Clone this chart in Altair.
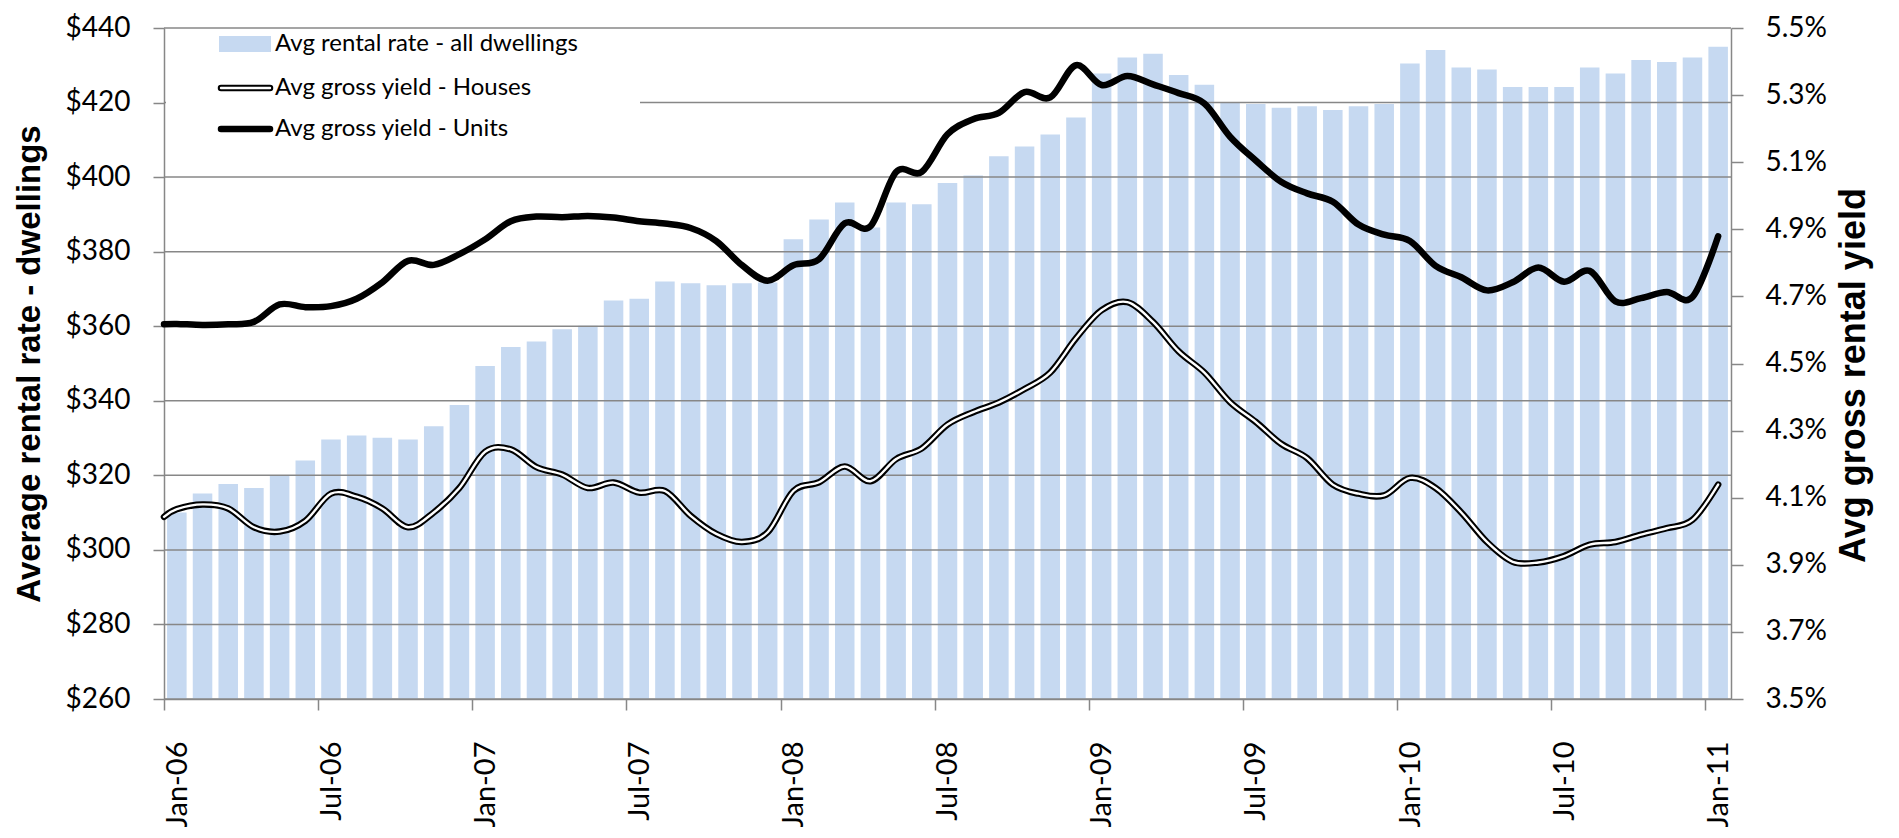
import altair as alt
import pandas as pd

# ---------------- data ----------------
month_index = list(range(61))  # Jan-06 .. Jan-11

rent = [310.0, 315.1, 317.7, 316.6, 319.9, 324.0, 329.6, 330.7, 330.1, 329.6, 333.2, 338.9,
        349.3, 354.4, 355.9, 359.2, 360.1, 366.9, 367.4, 372.0, 371.5, 371.0, 371.5, 371.7,
        383.3, 388.6, 393.2, 386.5, 393.2, 392.7, 398.4, 400.4, 405.6, 408.2, 411.4, 416.0,
        427.8, 432.1, 433.1, 427.4, 424.8, 420.0, 419.6, 418.6, 419.0, 418.0, 419.0, 419.6,
        430.5, 434.1, 429.4, 428.9, 424.2, 424.2, 424.2, 429.4, 427.8, 431.4, 430.9, 432.1,
        435.0]

houses_start = 4.043
houses_yield = [4.066, 4.080, 4.068, 4.012, 3.999, 4.031, 4.112, 4.103, 4.068, 4.012, 4.056, 4.129,
                4.237, 4.244, 4.191, 4.169, 4.129, 4.145, 4.115, 4.120, 4.046, 3.992, 3.968, 3.997,
                4.120, 4.146, 4.193, 4.149, 4.215, 4.247, 4.318, 4.355, 4.384, 4.424, 4.473, 4.575,
                4.659, 4.683, 4.624, 4.536, 4.473, 4.385, 4.326, 4.260, 4.218, 4.139, 4.112, 4.107,
                4.159, 4.129, 4.056, 3.968, 3.909, 3.907, 3.926, 3.960, 3.968, 3.990, 4.009, 4.034,
                4.139]

units_start = 4.617
units_yield = [4.618, 4.615, 4.617, 4.624, 4.676, 4.668, 4.671, 4.693, 4.742, 4.806, 4.794, 4.826,
               4.870, 4.924, 4.938, 4.936, 4.940, 4.935, 4.924, 4.917, 4.904, 4.865, 4.793, 4.747,
               4.793, 4.811, 4.918, 4.909, 5.071, 5.071, 5.183, 5.228, 5.247, 5.309, 5.293, 5.389,
               5.330, 5.357, 5.332, 5.306, 5.275, 5.176, 5.105, 5.041, 5.007, 4.982, 4.914, 4.884,
               4.865, 4.791, 4.757, 4.718, 4.742, 4.786, 4.744, 4.776, 4.685, 4.695, 4.713, 4.698,
               4.879]

dollar_ticks = [260, 280, 300, 320, 340, 360, 380, 400, 420, 440]
yield_ticks = [3.5, 3.7, 3.9, 4.1, 4.3, 4.5, 4.7, 4.9, 5.1, 5.3, 5.5]
x_tick_months = [0, 6, 12, 18, 24, 30, 36, 42, 48, 54, 60]
x_tick_labels = ["Jan-06", "Jul-06", "Jan-07", "Jul-07", "Jan-08", "Jul-08",
                 "Jan-09", "Jul-09", "Jan-10", "Jul-10", "Jan-11"]

legend_labels = ["Avg rental rate  - all dwellings",
                 "Avg gross yield  - Houses",
                 "Avg gross yield  - Units"]

# ---------------- tables ----------------
bars_df = pd.DataFrame({"m": month_index, "rent": rent})
houses_df = pd.DataFrame({"pos": [0.0] + [m + 0.5 for m in month_index],
                          "val": [houses_start] + houses_yield})
units_df = pd.DataFrame({"pos": [0.0] + [m + 0.5 for m in month_index],
                         "val": [units_start] + units_yield})
grid_df = pd.DataFrame({"rent": dollar_ticks})
one = pd.DataFrame({"k": [0]})

# ---------------- styles ----------------
GRAY = "#878787"
BAR = "#C6D9F1"
LBL_FONT = "Lato"
TITLE_FONT = "Liberation Sans"
LBL_SIZE = 28

W, H = 1567, 671
PAD_TOP = 20

x_scale = alt.Scale(domain=[0, 61], nice=False, zero=False)
yl_scale = alt.Scale(domain=[260, 440], nice=False, zero=False)
yr_scale = alt.Scale(domain=[3.5, 5.5], nice=False, zero=False)

lbl_arr = "[" + ",".join("'%s'" % s for s in x_tick_labels) + "]"
x_axis = alt.Axis(values=x_tick_months, labelExpr=lbl_arr + "[round(datum.value/6)]",
                  labelAngle=270, labelAlign="right", labelBaseline="middle",
                  labelOffset=13, labelPadding=31, tickSize=11, tickColor=GRAY, tickWidth=1.5,
                  domainColor=GRAY, domainWidth=1.5, grid=False, title=None,
                  labelFont=LBL_FONT, labelFontSize=29, labelColor="black",
                  labelFlush=False)

left_axis = alt.Axis(orient="left", values=dollar_ticks, labelExpr="'$' + datum.value",
                     tickSize=11, tickColor=GRAY, tickWidth=1.5, domainColor=GRAY, domainWidth=1.5,
                     labelPadding=23, grid=False, labelFont=LBL_FONT, labelFontSize=LBL_SIZE,
                     labelColor="black",
                     title="Average rental rate - dwellings", titleFont=TITLE_FONT,
                     titleFontSize=33, titleFontWeight="bold", titleColor="black",
                     titlePadding=19)

right_axis = alt.Axis(orient="right", values=yield_ticks,
                      labelExpr="format(datum.value, '.1f') + '%'",
                      tickSize=12, tickColor=GRAY, tickWidth=1.5, domainColor=GRAY, domainWidth=1.5,
                      labelPadding=22, grid=False, labelFont=LBL_FONT, labelFontSize=LBL_SIZE,
                      labelColor="black",
                      title="Avg gross rental yield", titleFont=TITLE_FONT, titleFontSize=36,
                      titleFontWeight="bold", titleColor="black", titleAngle=270,
                      titleBaseline="top", titlePadding=10, titleY=347)

# ---------------- left group (bars, gridlines, legend box) ----------------
bars = alt.Chart(bars_df).transform_calculate(
    x0="datum.m + 0.12", x1="datum.m + 0.88"
).mark_rect(color=BAR).encode(
    x=alt.X("x0:Q", scale=x_scale, axis=x_axis),
    x2="x1:Q",
    y=alt.Y("rent:Q", scale=yl_scale, axis=left_axis),
    y2=alt.datum(260),
)

grid = alt.Chart(grid_df).mark_rule(color=GRAY, strokeWidth=1.5).encode(
    y=alt.Y("rent:Q", scale=yl_scale, axis=left_axis),
)

legend_box = alt.Chart(one).mark_rect(fill="white").encode(
    x=alt.value(2), x2=alt.value(476), y=alt.value(1), y2=alt.value(126)
)

left = alt.layer(bars, grid, legend_box)

# ---------------- right group (yield lines, legend items) ----------------
def yield_line(df, color, width):
    return alt.Chart(df).mark_line(
        color=color, strokeWidth=width, interpolate="cardinal", strokeCap="round"
    ).encode(
        x=alt.X("pos:Q", scale=x_scale, axis=x_axis),
        y=alt.Y("val:Q", scale=yr_scale, axis=right_axis),
    )

houses_outer = yield_line(houses_df, "black", 6.5)
houses_inner = yield_line(houses_df, "white", 2.4)
units = yield_line(units_df, "black", 6.5)

LEG_Y = [16, 60, 101]
sw_bar = alt.Chart(one).mark_rect(fill=BAR).encode(
    x=alt.value(55), x2=alt.value(107), y=alt.value(LEG_Y[0] - 8), y2=alt.value(LEG_Y[0] + 8))
sw_h1 = alt.Chart(one).mark_rule(color="black", strokeWidth=6.5, strokeCap="round").encode(
    x=alt.value(57), x2=alt.value(106), y=alt.value(LEG_Y[1]))
sw_h2 = alt.Chart(one).mark_rule(color="white", strokeWidth=2.4, strokeCap="round").encode(
    x=alt.value(57), x2=alt.value(106), y=alt.value(LEG_Y[1]))
sw_u = alt.Chart(one).mark_rule(color="black", strokeWidth=6.5, strokeCap="round").encode(
    x=alt.value(57), x2=alt.value(106), y=alt.value(LEG_Y[2]))

def legend_text(label, ypix):
    return alt.Chart(one).mark_text(
        align="left", baseline="middle", font=LBL_FONT, fontSize=24, color="black"
    ).encode(x=alt.value(111), y=alt.value(ypix), text=alt.value(label))

right = alt.layer(houses_outer, houses_inner, units, sw_bar, sw_h1, sw_h2, sw_u,
                  legend_text(legend_labels[0], LEG_Y[0]),
                  legend_text(legend_labels[1], LEG_Y[1]),
                  legend_text(legend_labels[2], LEG_Y[2]))

chart = alt.layer(left, right).resolve_scale(y="independent").properties(
    width=W, height=H,
    autosize=alt.AutoSizeParams(type="none"),
    padding={"left": 156, "top": PAD_TOP, "right": 160, "bottom": 128},
).configure_view(stroke=None)

chart.save("out.html", embed_options={"renderer": "svg", "actions": False})
